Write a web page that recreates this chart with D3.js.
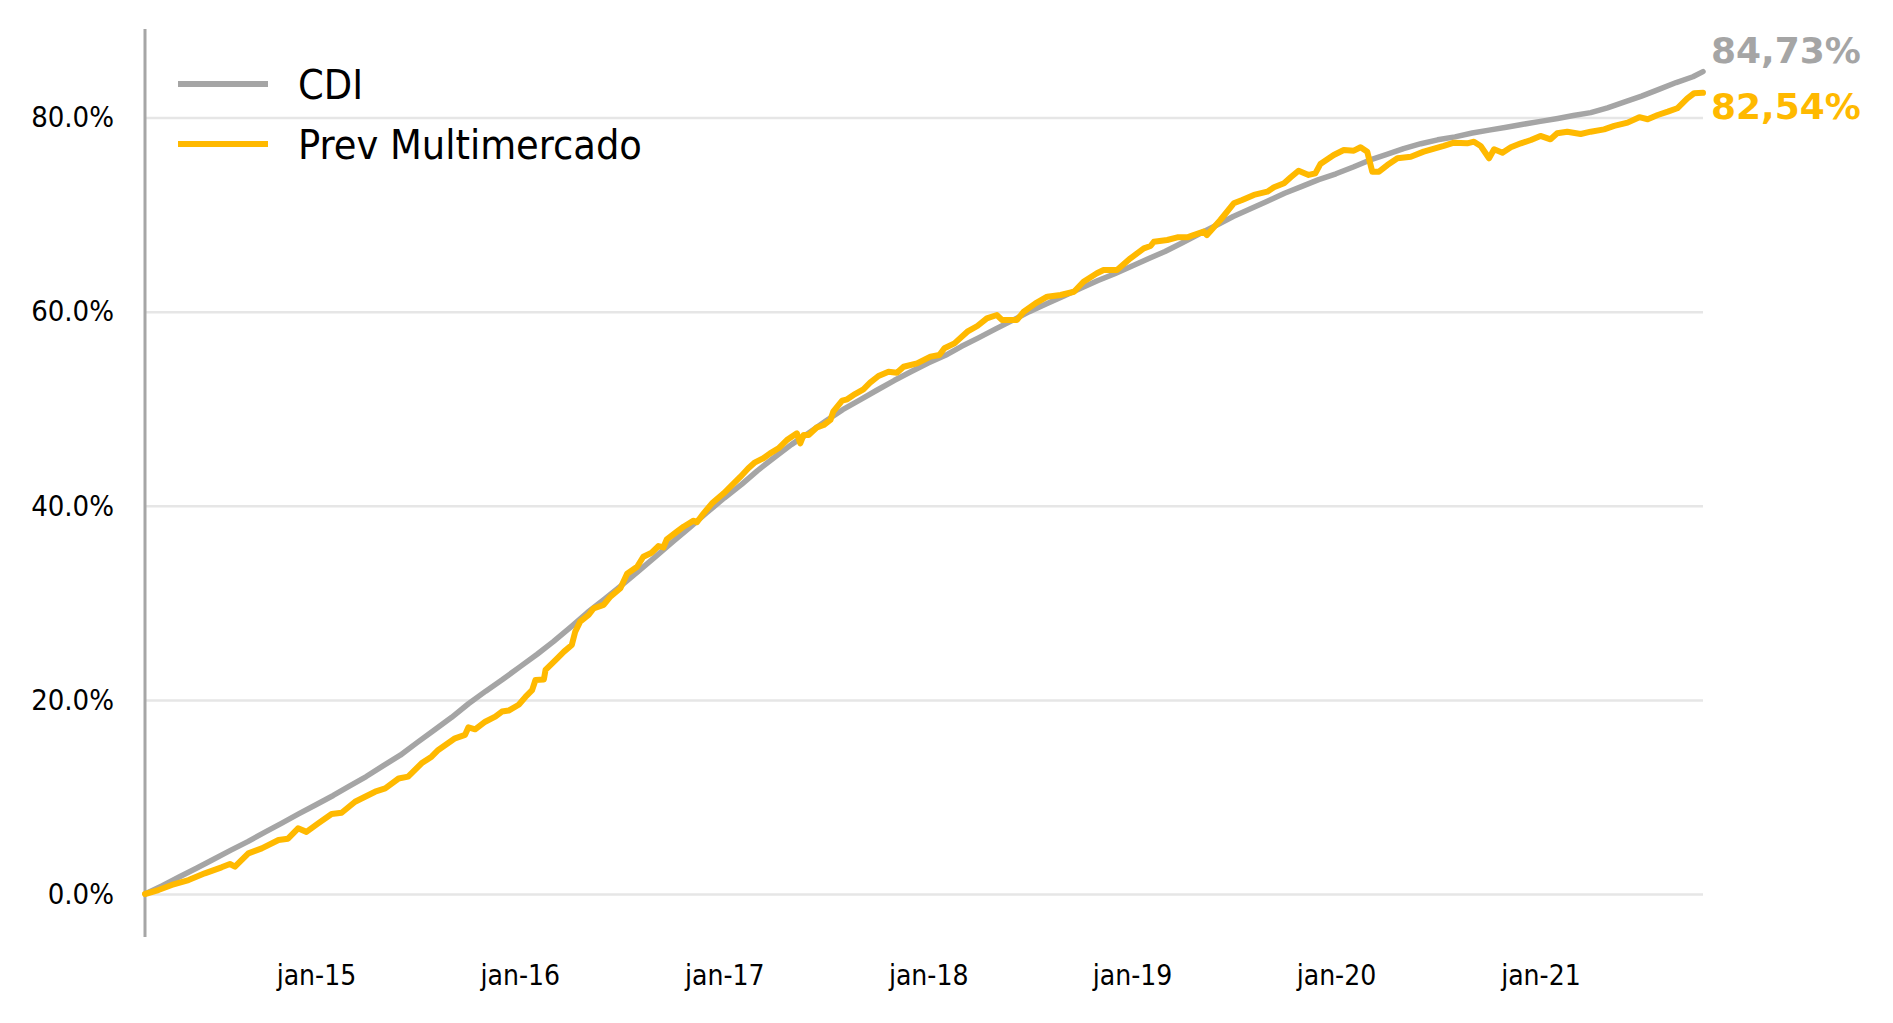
<!DOCTYPE html>
<html>
<head>
<meta charset="utf-8">
<script src="https://cdn.jsdelivr.net/npm/d3@7"></script>
<style>
  body { margin: 0; background: #fff; }
  svg { display: block; background: #fff; }
  .axis text, .legend text {
    font-family: "DejaVu Sans Condensed", "DejaVu Sans", sans-serif;
    font-stretch: condensed;
    fill: #000;
  }
  .end-label { font-family: "DejaVu Sans", sans-serif; font-weight: bold; }
</style>
</head>
<body>
<svg id="chart" width="1893" height="1023"></svg>
<script>
// CDI, cumulative % (monthly)
const cdiDates = [
  "2014-03-01","2014-04-01","2014-05-01","2014-06-01","2014-07-01","2014-08-01","2014-09-01","2014-10-01","2014-11-01","2014-12-01",
  "2015-01-01","2015-02-01","2015-03-01","2015-04-01","2015-05-01","2015-06-01","2015-07-01","2015-08-01","2015-09-01","2015-10-01","2015-11-01","2015-12-01",
  "2016-01-01","2016-02-01","2016-03-01","2016-04-01","2016-05-01","2016-06-01","2016-07-01","2016-08-01","2016-09-01","2016-10-01","2016-11-01","2016-12-01",
  "2017-01-01","2017-02-01","2017-03-01","2017-04-01","2017-05-01","2017-06-01","2017-07-01","2017-08-01","2017-09-01","2017-10-01","2017-11-01","2017-12-01",
  "2018-01-01","2018-02-01","2018-03-01","2018-04-01","2018-05-01","2018-06-01","2018-07-01","2018-08-01","2018-09-01","2018-10-01","2018-11-01","2018-12-01",
  "2019-01-01","2019-02-01","2019-03-01","2019-04-01","2019-05-01","2019-06-01","2019-07-01","2019-08-01","2019-09-01","2019-10-01","2019-11-01","2019-12-01",
  "2020-01-01","2020-02-01","2020-03-01","2020-04-01","2020-05-01","2020-06-01","2020-07-01","2020-08-01","2020-09-01","2020-10-01","2020-11-01","2020-12-01",
  "2021-01-01","2021-02-01","2021-03-01","2021-04-01","2021-05-01","2021-06-01","2021-07-01","2021-08-01","2021-09-01","2021-10-01","2021-10-19"
];
const cdiValues = [
  0.0, 0.85, 1.75, 2.65, 3.55, 4.5, 5.4, 6.35, 7.3, 8.25,
  9.2, 10.15, 11.1, 12.1, 13.2, 14.3, 15.6, 16.9, 18.2, 19.6, 20.9, 22.1,
  23.4, 24.7, 26.0, 27.5, 29.0, 30.4, 31.8, 33.3, 34.8, 36.3, 37.8, 39.3,
  40.8, 42.2, 43.6, 45.0, 46.3, 47.5, 48.7, 49.9, 50.9, 51.9, 52.9, 53.8,
  54.7, 55.5, 56.4, 57.3, 58.2, 59.1, 60.0, 60.8, 61.6, 62.4, 63.2, 63.9,
  64.7, 65.5, 66.2, 67.1, 68.0, 68.9, 69.8, 70.6, 71.4, 72.2, 72.9, 73.6,
  74.2, 74.9, 75.6, 76.2, 76.8, 77.3, 77.7, 78.0, 78.4, 78.7, 79.0, 79.3,
  79.6, 79.9, 80.2, 80.5, 81.0, 81.6, 82.2, 82.9, 83.6, 84.2, 84.73
];

// Prev Multimercado, cumulative %
const prevDates = [
  "2014-03-01","2014-03-25","2014-04-18","2014-05-18","2014-06-16","2014-07-16","2014-07-31","2014-08-09","2014-09-02","2014-09-26",
  "2014-10-26","2014-11-12","2014-11-30","2014-12-15",
  "2015-01-05","2015-01-29","2015-02-16","2015-03-12","2015-04-17","2015-05-05","2015-05-29","2015-06-15","2015-07-09","2015-07-27",
  "2015-08-08","2015-09-07","2015-09-25","2015-10-01","2015-10-13","2015-10-31","2015-11-18","2015-11-30","2015-12-12","2015-12-30",
  "2016-01-11","2016-01-23","2016-01-29","2016-02-13","2016-02-16","2016-03-08","2016-03-20","2016-04-03","2016-04-09","2016-04-18",
  "2016-05-03","2016-05-12","2016-05-30","2016-06-11","2016-06-29","2016-07-11","2016-07-29","2016-08-09","2016-08-24","2016-09-05",
  "2016-09-14","2016-09-20","2016-10-08","2016-10-20","2016-11-07","2016-11-13","2016-11-25","2016-12-10","2016-12-31",
  "2017-01-12","2017-01-30","2017-02-13","2017-02-25","2017-03-12","2017-03-24","2017-04-08","2017-04-23","2017-05-11","2017-05-17",
  "2017-05-23","2017-06-01","2017-06-16","2017-06-28","2017-07-10","2017-07-15","2017-07-31","2017-08-09","2017-08-23","2017-09-07",
  "2017-09-19","2017-10-04","2017-10-22","2017-11-06","2017-11-18","2017-12-12",
  "2018-01-05","2018-01-21","2018-01-30","2018-02-17","2018-03-12","2018-03-30","2018-04-16","2018-05-04","2018-05-13","2018-06-09",
  "2018-06-21","2018-07-12","2018-08-02","2018-08-26","2018-09-19","2018-10-06","2018-10-30","2018-11-11","2018-12-05","2018-12-29",
  "2019-01-22","2019-02-03","2019-02-09","2019-03-05","2019-03-23","2019-04-10","2019-04-21","2019-05-09","2019-05-15","2019-06-08",
  "2019-07-02","2019-07-17","2019-08-07","2019-08-31","2019-09-12","2019-09-30","2019-10-12","2019-10-26","2019-11-13","2019-11-25",
  "2019-12-04","2019-12-28",
  "2020-01-15","2020-02-02","2020-02-14","2020-02-26","2020-03-06","2020-03-18","2020-04-02","2020-04-20","2020-05-14","2020-06-06",
  "2020-07-12","2020-07-30","2020-08-23","2020-09-04","2020-09-16","2020-10-01","2020-10-10","2020-10-25","2020-11-09","2020-11-27",
  "2020-12-15",
  "2021-01-01","2021-01-19","2021-01-31","2021-02-18","2021-03-14","2021-04-01","2021-04-25","2021-05-13","2021-06-06","2021-06-27",
  "2021-07-12","2021-07-30","2021-08-17","2021-09-03","2021-09-21","2021-10-03","2021-10-19"
];
const prevValues = [
  0.0, 0.41, 0.93, 1.44, 2.13, 2.75, 3.09, 2.82, 4.19, 4.7,
  5.56, 5.7, 6.77, 6.4,
  7.28, 8.24, 8.37, 9.5, 10.54, 10.88, 11.9, 12.09, 13.46, 14.15,
  14.84, 16.04, 16.4, 17.17, 16.97, 17.75, 18.27, 18.8, 18.9, 19.5,
  20.3, 21.0, 22.05, 22.1, 23.08, 24.28, 24.97, 25.65, 27.0, 28.06,
  28.75, 29.43, 29.78, 30.63, 31.5, 33.0, 33.72, 34.75, 35.16, 35.85,
  35.7, 36.54, 37.32, 37.84, 38.46, 38.3, 39.22, 40.25, 41.28,
  41.96, 42.99, 43.86, 44.47, 44.89, 45.4, 45.92, 46.77, 47.46, 46.43,
  47.29, 47.29, 48.08, 48.32, 48.84, 49.69, 50.83, 50.97, 51.51, 52.0,
  52.68, 53.37, 53.81, 53.7, 54.32, 54.67,
  55.36, 55.53, 56.22, 56.73, 57.93, 58.52, 59.31, 59.65, 59.14, 59.14,
  59.99, 60.85, 61.54, 61.71, 62.05, 63.08, 63.95, 64.29, 64.29, 65.49,
  66.52, 66.76, 67.2, 67.38, 67.65, 67.65, 67.89, 68.24, 67.89, 69.44,
  71.16, 71.5, 72.02, 72.36, 72.81, 73.22, 73.84, 74.52, 74.08, 74.25,
  75.2, 76.14,
  76.65, 76.58, 76.93, 76.48, 74.42, 74.42, 75.1, 75.8, 75.96, 76.48,
  77.07, 77.41, 77.34, 77.51, 77.07, 75.8, 76.72, 76.37, 76.93, 77.34,
  77.68,
  78.1, 77.75, 78.37, 78.54, 78.3, 78.54, 78.78, 79.13, 79.47, 80.03,
  79.82, 80.26, 80.6, 80.95, 81.98, 82.5, 82.54
];

const yTicks = [0, 20, 40, 60, 80];
const xTickDates = ["2015-01-01","2016-01-01","2017-01-01","2018-01-01","2019-01-01","2020-01-01","2021-01-01"];
const xTickLabels = ["jan-15","jan-16","jan-17","jan-18","jan-19","jan-20","jan-21"];
const seriesNames = ["CDI", "Prev Multimercado"];
const endLabels = ["84,73%", "82,54%"];
const colors = ["#A5A5A5", "#FFB900"];

const parse = d3.timeParse("%Y-%m-%d");
const cdi = cdiDates.map((d, i) => ({ date: parse(d), value: cdiValues[i] }));
const prev = prevDates.map((d, i) => ({ date: parse(d), value: prevValues[i] }));

const svg = d3.select("#chart");
const plotLeft = 145, plotRight = 1703, axisTop = 29, axisBottom = 937;

// scales
const x = d3.scaleTime()
  .domain(d3.extent(cdi, d => d.date))
  .range([plotLeft, plotRight]);
const y = d3.scaleLinear()
  .domain([0, 80])
  .range([894, 117.5]);

// gridlines + y labels
const yAxis = d3.axisLeft(y)
  .tickValues(yTicks)
  .tickSize(-(plotRight - plotLeft))
  .tickPadding(31)
  .tickFormat(d => d3.format(".1f")(d) + "%");
const gy = svg.append("g")
  .attr("class", "axis")
  .attr("transform", `translate(${plotLeft},0)`)
  .call(yAxis);
gy.select(".domain").remove();
gy.selectAll("line").attr("stroke", "#E6E6E6").attr("stroke-width", 2.5);
gy.selectAll("text").style("font-size", "29px");

// x labels
const xAxis = d3.axisBottom(x)
  .tickValues(xTickDates.map(parse))
  .tickSize(0)
  .tickPadding(28)
  .tickFormat((d, i) => xTickLabels[i]);
const gx = svg.append("g")
  .attr("class", "axis")
  .attr("transform", `translate(0,${axisBottom})`)
  .call(xAxis);
gx.select(".domain").remove();
gx.selectAll("text").style("font-size", "28px");

// vertical axis line
svg.append("line")
  .attr("x1", plotLeft).attr("x2", plotLeft)
  .attr("y1", axisTop).attr("y2", axisBottom)
  .attr("stroke", "#A6A6A6")
  .attr("stroke-width", 3);

// lines
const line = d3.line()
  .x(d => x(d.date))
  .y(d => y(d.value));

svg.selectAll(".series")
  .data([cdi, prev])
  .join("path")
  .attr("class", "series")
  .attr("fill", "none")
  .attr("stroke", (d, i) => colors[i])
  .attr("stroke-width", (d, i) => i === 0 ? 5.5 : 6)
  .attr("stroke-linejoin", "round")
  .attr("stroke-linecap", "round")
  .attr("d", line);

// legend
const legend = svg.append("g").attr("class", "legend");
const legendY = [84, 144];
legend.selectAll("line")
  .data(seriesNames)
  .join("line")
  .attr("x1", 178).attr("x2", 268)
  .attr("y1", (d, i) => legendY[i]).attr("y2", (d, i) => legendY[i])
  .attr("stroke", (d, i) => colors[i])
  .attr("stroke-width", 6);
legend.selectAll("text")
  .data(seriesNames)
  .join("text")
  .attr("x", 298)
  .attr("y", (d, i) => legendY[i])
  .attr("dy", "0.36em")
  .style("font-size", "41px")
  .text(d => d);

// end value labels
const endY = [63, 119];
svg.selectAll(".end-label")
  .data(endLabels)
  .join("text")
  .attr("class", "end-label")
  .attr("x", 1711)
  .attr("y", (d, i) => endY[i])
  .attr("fill", (d, i) => colors[i])
  .style("font-size", "36px")
  .text(d => d);
</script>
</body>
</html>
